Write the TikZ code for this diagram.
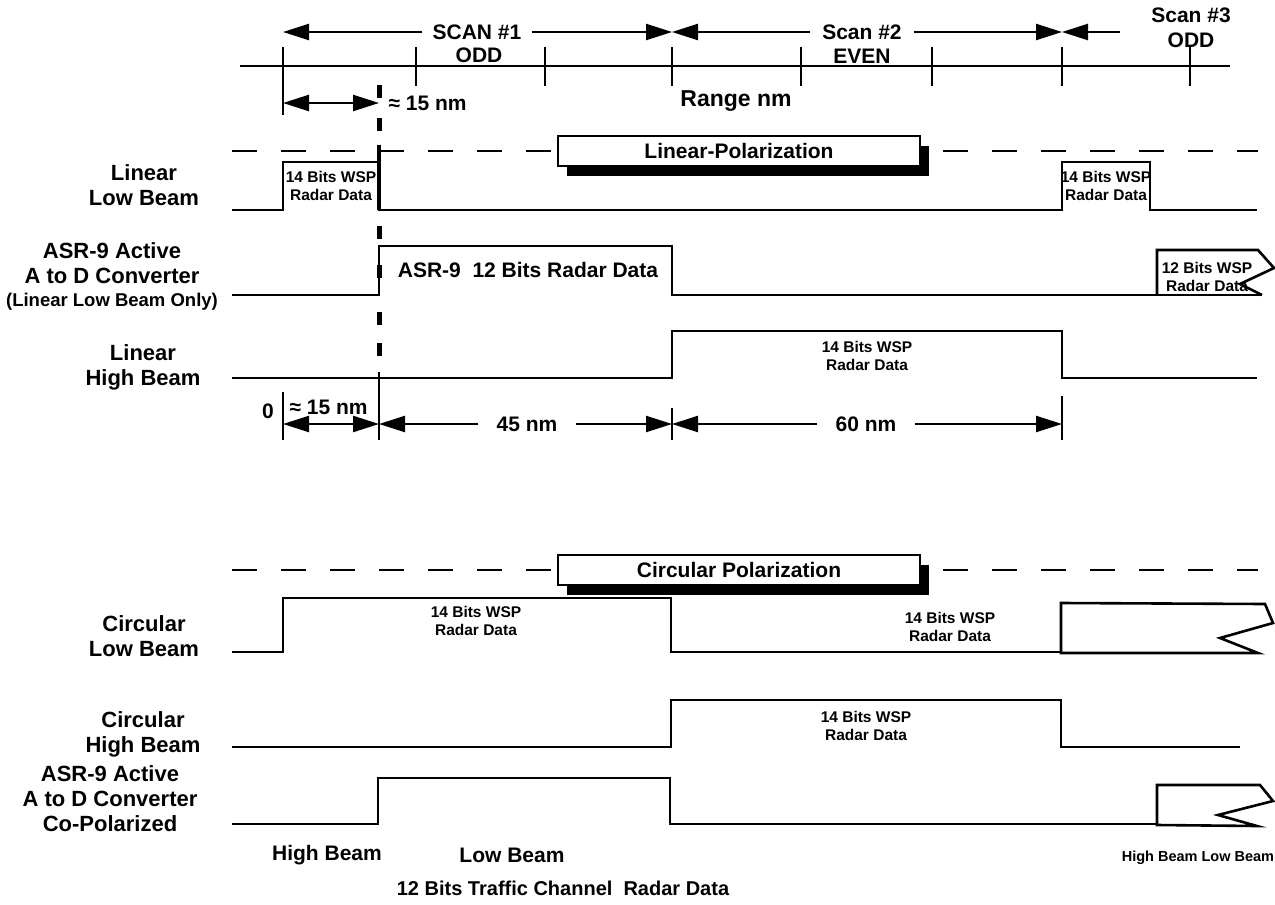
\documentclass[tikz,border=0pt]{standalone}
\usepackage{fontspec}
\setmainfont{Liberation Sans}
\usetikzlibrary{arrows.meta,positioning,shadows}

\begin{document}
\begin{tikzpicture}[x=1pt, y=-1pt, >={Triangle[length=26pt,width=16pt]},
    lbl/.style={font=\fontsize{22}{25}\selectfont\bfseries, align=center},
    small/.style={font=\fontsize{15.5}{18}\selectfont\bfseries, align=center, inner sep=1pt},
    big/.style={font=\fontsize{21}{24}\selectfont\bfseries, inner ysep=1pt},
    sig/.style={line width=2.6pt, line join=miter},
    tickline/.style={line width=2.4pt},
    dimline/.style={line width=2.4pt},
    polbox/.style={draw, line width=2pt, fill=white, minimum width=362pt, minimum height=30pt,
        font=\fontsize{21}{24}\selectfont\bfseries,
        drop shadow={shadow xshift=9pt, shadow yshift=-10pt, fill=black, opacity=1}},
    poldash/.style={line width=2.4pt, dash pattern=on 25pt off 24pt}]

    \useasboundingbox (0,0) rectangle (1275,905);

    % Range axis
    \draw[sig] (240,66) -- (1230,66);
    \foreach \xt in {416,545,672,801,932,1062,1190}
        \draw[tickline] (\xt,47) -- (\xt,86);
    \draw[tickline] (283,47) -- (283,115);

    % Scans
    \node[big, inner xsep=10pt] (scan1) at (477,32) {SCAN \#1};
    \node[big] (odd1) at (479,55) {ODD};
    \node[big, inner xsep=12pt] (scan2) at (862,32) {Scan \#2};
    \node[big] (even2) at (862,56) {EVEN};
    \node[big] (scan3) at (1191,15) {Scan \#3};
    \node[big] (odd3) at (1191,40) {ODD};
    \coordinate (s0) at (283,32);
    \coordinate (s1) at (672,32);
    \coordinate (s2) at (1062,32);
    \coordinate (s3) at (1120,32);
    \draw[dimline,->] (scan1.west) -- (s0);
    \draw[dimline,->] (scan1.east) -- (s1);
    \draw[dimline,->] (scan2.west) -- (s1);
    \draw[dimline,->] (scan2.east) -- (s2);
    \draw[dimline,->] (s3) -- (s2);

    \coordinate (r0) at (283,103);
    \coordinate (r15) at (379,103);
    \draw[dimline,<->] (r0) -- (r15);
    \node[big, anchor=west] (approx1) at (385,103) {≈ 15 nm};
    \node[font=\fontsize{23}{26}\selectfont\bfseries] (range) at (736,101) {Range nm};

    % Dashed start line
    \foreach \ya in {85,118,226,265,312,343}
        \draw[line width=5pt] (379,\ya) -- (379,\ya+13);
    \draw[line width=4pt] (379,145) -- (379,210);

    % Linear polarization
    \node[polbox] (linpol) at (739,151) {Linear-Polarization};
    \draw[poldash] (232,151) -- (linpol.west);
    \draw[poldash] ([xshift=22pt]linpol.east) -- (1258,151);

    % Linear low beam
    \node[lbl] (linlow) at (144,185) {Linear\\Low Beam};
    \draw[sig] (232,210) -- (283,210) -- (283,162) -- (379,162) -- (379,210)
        -- (1062,210) -- (1062,162) -- (1150,162) -- (1150,210) -- (1257,210);
    \node[small] (wsp1) at (331,186) {14 Bits WSP\\Radar Data};
    \node[small] (wsp2) at (1106,186) {14 Bits WSP\\Radar Data};

    % ASR-9 linear
    \node[lbl] (asrlin) at (112,276) {ASR-9 Active\\A to D Converter\\[-2pt]{\fontsize{18.5}{20}\selectfont (Linear Low Beam Only)}};
    \draw[sig] (232,295) -- (379,295) -- (379,246) -- (672,246) -- (672,295) -- (1262,295);
    \draw[sig] (1157,295) -- (1157,250) -- (1258,250) -- (1274,268) -- (1240,284) -- (1262,295);
    \node[big] (asr12) at (528,270) {ASR-9\ \ 12 Bits Radar Data};
    \node[small] (wsp12) at (1207,277) {12 Bits WSP\\Radar Data};

    % Linear high beam
    \node[lbl] (linhigh) at (143,367) {Linear\\High Beam};
    \draw[sig] (232,378) -- (672,378) -- (672,331) -- (1062,331) -- (1062,378) -- (1257,378);
    \node[small] (wsp3) at (867,356) {14 Bits WSP\\Radar Data};

    % Range marks
    \coordinate (d0) at (283,424);
    \coordinate (d15) at (379,424);
    \coordinate (d45) at (672,424);
    \coordinate (d60) at (1062,424);
    \draw[tickline] (283,392) -- (283,440);
    \draw[tickline] (379,372) -- (379,440);
    \draw[tickline] (672,408) -- (672,440);
    \draw[tickline] (1062,396) -- (1062,440);
    \node[big] (zero) at (268,411) {0};
    \node[big, anchor=west] (approx2) at (286,407) {≈ 15 nm};
    \node[big, inner xsep=18pt] (nm45) at (527,424) {45 nm};
    \node[big, inner xsep=18pt] (nm60) at (866,424) {60 nm};
    \draw[dimline,<->] (d0) -- (d15);
    \draw[dimline,->] (nm45) -- (d15);
    \draw[dimline,->] (nm45) -- (d45);
    \draw[dimline,->] (nm60) -- (d45);
    \draw[dimline,->] (nm60) -- (d60);

    % Circular polarization
    \node[polbox] (circpol) at (739,570) {Circular Polarization};
    \draw[poldash] (232,570) -- (circpol.west);
    \draw[poldash] ([xshift=22pt]circpol.east) -- (1258,570);

    % Circular low beam
    \node[lbl] (circlow) at (144,636) {Circular\\Low Beam};
    \draw[sig] (232,652) -- (283,652) -- (283,598) -- (671,598) -- (671,652) -- (1061,652);
    \draw[sig] (1061,653) -- (1061,603) -- (1265,604) -- (1273,623) -- (1220,638) -- (1258,653) -- cycle;
    \node[small] (wsp4) at (476,621) {14 Bits WSP\\Radar Data};
    \node[small] (wsp5) at (950,627) {14 Bits WSP\\Radar Data};

    % Circular high beam
    \node[lbl] (circhigh) at (143,734) {Circular\\High Beam};
    \draw[sig] (232,747) -- (671,747) -- (671,700) -- (1061,700) -- (1061,747) -- (1240,747);
    \node[small] (wsp6) at (866,726) {14 Bits WSP\\Radar Data};

    % ASR-9 co-polarized
    \node[lbl] (asrco) at (110,799) {ASR-9 Active\\A to D Converter\\Co-Polarized};
    \draw[sig] (232,824) -- (378,824) -- (378,778) -- (670,778) -- (670,824) -- (1157,824);
    \draw[sig] (1157,825) -- (1157,785) -- (1260,785) -- (1273,801) -- (1218,815) -- (1257,826) -- cycle;

    % Beam notes
    \node[big] (hb1) at (327,855) {High Beam};
    \node[big] (lb1) at (512,855) {Low Beam};
    \node[font=\fontsize{14.5}{17}\selectfont\bfseries] (hblb) at (1198,858) {High Beam Low Beam};
    \node[font=\fontsize{20}{23}\selectfont\bfseries] (traffic) at (563,888) {12 Bits Traffic Channel\ \ Radar Data};

\end{tikzpicture}
\end{document}
